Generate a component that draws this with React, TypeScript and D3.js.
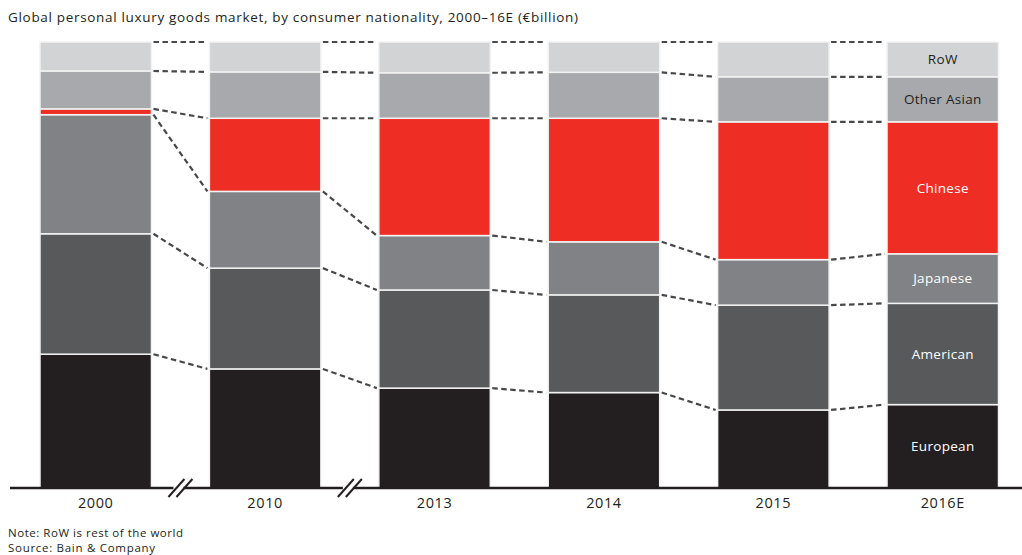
import React from "react";
import * as d3 from "d3";

const years = ["2000", "2010", "2013", "2014", "2015", "2016E"];
const segments = ["European", "American", "Japanese", "Chinese", "Other Asian", "RoW"];
const european = [30.0, 26.7, 22.4, 21.4, 17.5, 18.7];
const american = [27.0, 22.6, 22.0, 21.9, 23.5, 22.7];
const japanese = [26.7, 17.2, 12.2, 11.9, 10.2, 11.1];
const chinese = [1.3, 16.4, 26.3, 27.7, 30.9, 29.6];
const otherAsian = [8.5, 10.4, 10.2, 10.3, 10.1, 10.1];
const row = [6.5, 6.7, 6.9, 6.8, 7.8, 7.8];
const colors = ["#231f20", "#58595b", "#808285", "#ee2e24", "#a7a9ac", "#d1d3d4"];
const labelColors = ["#ffffff", "#ffffff", "#ffffff", "#ffffff", "#231f20", "#231f20"];
const breaksAfter = [0, 1];

const W = 1022;
const H = 555;
const FONT = "'Open Sans', Lato, sans-serif";

export default function App() {
  const seriesValues = [european, american, japanese, chinese, otherAsian, row];
  const table = years.map((y, i) => {
    const o: any = { year: y };
    segments.forEach((s, k) => (o[s] = seriesValues[k][i]));
    return o;
  });
  const stack = d3.stack<any>().keys(segments)(table);
  const x = d3.scaleBand().domain(years).range([40, 998.5]).paddingInner(0.342).paddingOuter(0);
  const y = d3.scaleLinear().domain([0, 100]).range([488, 42]);
  const bw = x.bandwidth();

  const connectors: { x1: number; y1: number; x2: number; y2: number }[] = [];
  for (let i = 0; i < years.length - 1; i++) {
    stack.forEach((layer) => {
      const a = layer[i][1];
      const b = layer[i + 1][1];
      connectors.push({
        x1: (x(years[i]) as number) + bw + 2,
        y1: y(a),
        x2: (x(years[i + 1]) as number) - 2,
        y2: y(b),
      });
    });
  }

  const last = years.length - 1;
  return (
    <svg width={W} height={H} style={{ position: "absolute", left: 0, top: 0, background: "#fff" }}>
      <text x={8} y={22} fontFamily={FONT} fontSize={13.5} fill="#231f20" textLength={570} lengthAdjust="spacing">
        Global personal luxury goods market, by consumer nationality, 2000–16E (€billion)
      </text>
      {stack.map((layer, k) => (
        <g key={segments[k]}>
          {layer.map((d, i) => (
            <rect
              key={years[i]}
              x={x(years[i])}
              y={y(d[1])}
              width={bw}
              height={y(d[0]) - y(d[1])}
              fill={colors[k]}
              stroke="#f2f2f2"
              strokeWidth={1.5}
            />
          ))}
        </g>
      ))}
      {connectors.map((c, i) => (
        <line
          key={i}
          x1={c.x1}
          y1={c.y1}
          x2={c.x2}
          y2={c.y2}
          stroke="#47484a"
          strokeWidth={2.2}
          strokeDasharray="5.5,3.5"
        />
      ))}
      {stack.map((layer, k) => {
        const d = layer[last];
        return (
          <text
            key={segments[k]}
            x={(x(years[last]) as number) + bw / 2}
            y={(y(d[0]) + y(d[1])) / 2}
            dy="0.35em"
            textAnchor="middle"
            fontFamily={FONT}
            fontSize={13.5}
            letterSpacing={0.3}
            fill={labelColors[k]}
          >
            {segments[k]}
          </text>
        );
      })}
      <line x1={10} x2={1022} y1={488} y2={488} stroke="#231f20" strokeWidth={2.5} />
      {breaksAfter.map((i) => {
        const cx = ((x(years[i]) as number) + bw + (x(years[i + 1]) as number)) / 2;
        return (
          <g key={i}>
            <rect x={cx - 7} y={484} width={10} height={8} fill="#fff" />
            {[-4, 4].map((dx) => (
              <line
                key={dx}
                x1={cx + dx - 8}
                y1={497}
                x2={cx + dx + 8}
                y2={479}
                stroke="#231f20"
                strokeWidth={2}
              />
            ))}
          </g>
        );
      })}
      {years.map((yr) => (
        <text
          key={yr}
          x={(x(yr) as number) + bw / 2}
          y={508}
          textAnchor="middle"
          fontFamily={FONT}
          fontSize={14.5}
          letterSpacing={0.6}
          fill="#231f20"
        >
          {yr}
        </text>
      ))}
      <text x={8} y={537} fontFamily={FONT} fontSize={11.5} fill="#231f20" textLength={175} lengthAdjust="spacing">
        Note: RoW is rest of the world
      </text>
      <text x={8} y={552} fontFamily={FONT} fontSize={11.5} fill="#231f20" textLength={147} lengthAdjust="spacing">
        Source: Bain &amp; Company
      </text>
    </svg>
  );
}
